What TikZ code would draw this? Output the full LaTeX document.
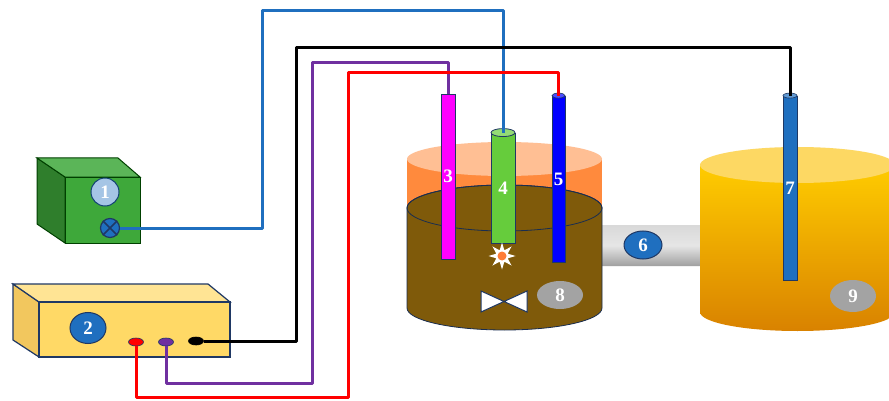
\documentclass[tikz,border=0pt]{standalone}
\usepackage{fontspec}
\setmainfont{Liberation Serif}
\usepackage{tikz}
\usetikzlibrary{shapes,arrows,positioning,shadows}
\definecolor{azul}{HTML}{1F6FBF}
\definecolor{marino}{HTML}{1F3864}
\definecolor{verde}{HTML}{3EA83A}
\definecolor{verdeclaro}{HTML}{66CC3C}
\definecolor{amarillo}{HTML}{FFD966}
\definecolor{naranja}{HTML}{FF8A3D}
\definecolor{cafe}{HTML}{7F5A0A}
\definecolor{morado}{HTML}{7030A0}
\definecolor{fucsia}{HTML}{FF00FF}
\definecolor{azulrey}{HTML}{0000FF}
\definecolor{gris}{HTML}{A3A3A3}
\tikzstyle{cable} = [line width=3pt, line join=round]
\tikzstyle{tubo} = [draw=marino, line width=0.8pt, rectangle, inner sep=0pt, text=white, font=\fontsize{19}{22}\selectfont\bfseries]
\tikzstyle{numazul} = [draw=marino, line width=1pt, fill=azul, ellipse, inner sep=0pt, text=white, font=\fontsize{19}{22}\selectfont\bfseries]
\tikzstyle{numgris} = [fill=gris, ellipse, inner sep=0pt, text=white, font=\fontsize{19}{22}\selectfont\bfseries]
\tikzstyle{borne} = [draw=marino, line width=0.6pt, ellipse, inner sep=0pt, minimum width=15pt, minimum height=8pt]

\begin{document}
\begin{tikzpicture}[x=1pt, y=-1pt]
	\clip (0,0) rectangle (889,401);
	\fill[white] (0,0) rectangle (889,401);
	% fuente 1
	\filldraw[fill=verde!75!black, draw=green!25!black, line width=1pt] (37,158) -- (65,177) -- (65,243) -- (37,224) -- cycle;
	\filldraw[fill=verde!85!white, draw=green!25!black, line width=1pt] (37,158) -- (118,158) -- (140,177) -- (65,177) -- cycle;
	\filldraw[fill=verde, draw=green!25!black, line width=1pt] (65,177) rectangle (140,243);
	\node[numazul, fill=azul!40!white, draw=azul!60!black, minimum width=28pt, minimum height=28pt] (n1) at (105,192) {1};
	\node[circle, fill=azul, draw=marino, line width=1.2pt, minimum size=19pt, inner sep=0pt] (perilla) at (110,228) {};
	\draw[marino, line width=1.5pt] (perilla.north west) -- (perilla.south east) (perilla.north east) -- (perilla.south west);
	% fuente 2
	\filldraw[fill=amarillo!80!brown, draw=marino, line width=1.2pt] (13,284) -- (39,302) -- (39,357) -- (13,340) -- cycle;
	\filldraw[fill=amarillo!70!white, draw=marino, line width=1.2pt] (13,284) -- (208,284) -- (230,302) -- (39,302) -- cycle;
	\filldraw[fill=amarillo, draw=marino, line width=1.2pt] (39,302) rectangle (230,357);
	\node[numazul, minimum width=36pt, minimum height=31pt] (n2) at (88,328) {2};
	\node[borne, fill=red] (brojo) at (136,342) {};
	\node[borne, fill=morado] (bmorado) at (166,342) {};
	\node[borne, fill=black, draw=black] (bnegro) at (196,341) {};
	% conducto 6
	\shade[top color=gray!30, bottom color=gray!75, middle color=gray!20, rounded corners=10pt] (590,225) rectangle (712,266);
	\node[numazul, minimum width=38pt, minimum height=28pt] (n6) at (643,245) {6};
	% reactor
	\fill[naranja] (407,159) rectangle (602,208);
	\fill[naranja!55!white] (504.5,159) ellipse [x radius=97.5, y radius=17];
	\filldraw[fill=cafe, draw=marino!80!black, line width=0.8pt] (407,208) -- (407,308) arc[start angle=180, end angle=0, x radius=97.5, y radius=22] -- (602,208) arc[start angle=0, end angle=-180, x radius=97.5, y radius=23] -- cycle;
	\draw[marino!80!black, line width=0.8pt] (504.5,208) ellipse [x radius=97.5, y radius=23];
	\node[numgris, minimum width=46pt, minimum height=28pt] (n8) at (560,295) {8};
	\filldraw[fill=white, draw=marino, line width=1pt] (481,291) -- (504,301.5) -- (481,312) -- cycle;
	\filldraw[fill=white, draw=marino, line width=1pt] (527,291) -- (504,301.5) -- (527,312) -- cycle;
	% tanque 9
	\shade[top color=yellow!60!orange, bottom color=orange!80!yellow!85!black] (700,165) -- (700,312) arc[start angle=180, end angle=0, x radius=97.5, y radius=19] -- (895,165) -- cycle;
	\fill[yellow!55!orange!60!white] (797.5,165) ellipse [x radius=97.5, y radius=18];
	\node[numgris, minimum width=46pt, minimum height=32pt] (n9) at (853,296) {9};
	% electrodos
	\node[tubo, fill=fucsia, minimum width=14pt, minimum height=165pt] (e3) at (448,176.5) {3};
	\node[tubo, fill=verdeclaro, minimum width=24pt, minimum height=110pt] (e4) at (503,188) {4};
	\filldraw[fill=verdeclaro!70!white, draw=marino, line width=0.8pt] (e4.north) ellipse [x radius=12, y radius=4];
	\node[tubo, fill=azulrey, minimum width=13pt, minimum height=166pt] (e5) at (558.5,179) {5};
	\filldraw[fill=azulrey!70!white, draw=marino, line width=0.6pt] (e5.north) ellipse [x radius=6.5, y radius=2.5];
	\node[tubo, fill=azul, minimum width=14pt, minimum height=184pt] (e7) at (790,188) {7};
	\filldraw[fill=azul!70!white, draw=marino, line width=0.6pt] (e7.north) ellipse [x radius=7, y radius=2.5];
	\node[star, star points=8, star point ratio=2.2, fill=white, minimum size=27pt, inner sep=0pt] (chispa) at (502,256) {};
	\fill[naranja!90!red] (chispa.center) circle (4.5);
	% cables
	\draw[cable, azul] (perilla.east) -| (262,11) -| (e4.north);
	\draw[cable, black] (bnegro.east) -| (296,48) -| (e7.north);
	\draw[cable, morado] (bmorado.south) |- (312,383) -- (312,63) -| (e3.north);
	\draw[cable, red] (brojo.south) |- (348,397) -- (348,73) -| (e5.north);
\end{tikzpicture}
\end{document}
